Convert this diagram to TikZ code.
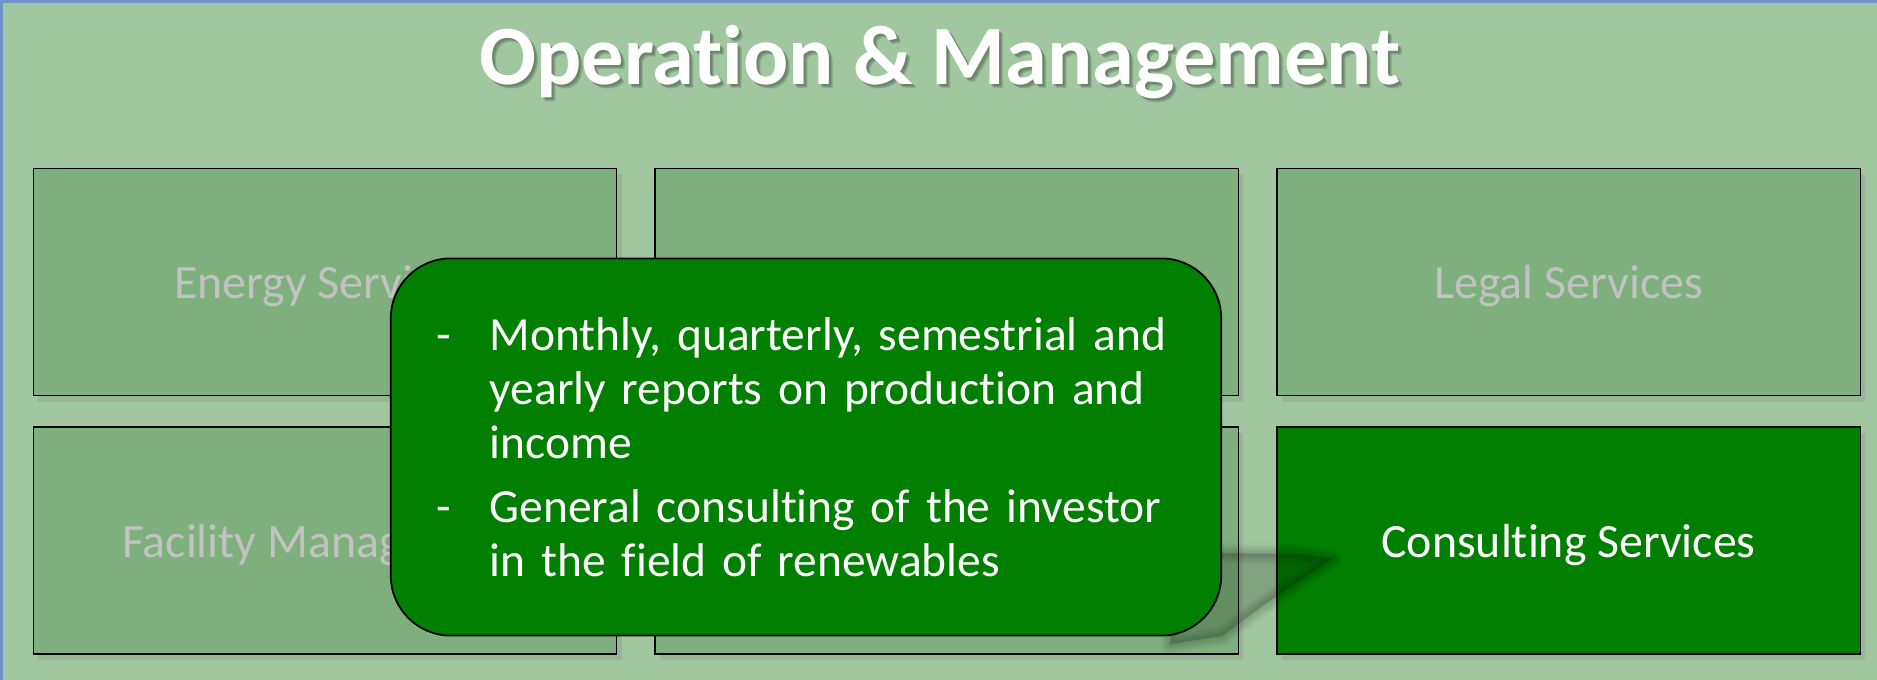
\documentclass[tikz,border=0pt]{standalone}
\usepackage{fontspec}
\setmainfont{Carlito}[Ligatures={NoCommon}]
\usetikzlibrary{positioning,shadows,calc}
\definecolor{bg}{HTML}{A1C7A1}
\definecolor{tile}{HTML}{7EB07E}
\definecolor{deep}{HTML}{007F00}
\definecolor{rim}{HTML}{6F93CB}
\definecolor{mute}{HTML}{C2C2C2}

\begin{document}
\begin{tikzpicture}[
  x=0.01cm, y=-0.01cm, node distance=3mm and 3.7mm,
  tilebox/.style={rectangle, draw=black, line width=0.4pt, fill=tile, text=mute,
                  minimum width=5.83cm, minimum height=2.27cm, inner sep=0pt, text depth=0pt,
                  font=\fontsize{13.6}{16}\selectfont,
                  drop shadow={shadow xshift=0.5mm, shadow yshift=-0.6mm, opacity=0.25}},
  hot/.style={tilebox, fill=deep, text=white},
  note/.style={rectangle, rounded corners=0.6cm, draw=black, line width=0.5pt, fill=deep,
               text=white, minimum width=8.3cm, minimum height=3.77cm, text width=7.38cm,
               inner xsep=0.46cm, inner ysep=0pt, align=left,
               font=\fontsize{13.5}{15.3}\selectfont},
  heading/.style={font=\fontsize{24}{28}\selectfont\bfseries, text=white, anchor=base},
  blur/.style={black, opacity=0.028, line join=round, line width=#1},
]
% ---- page and frame ----
\useasboundingbox (0,0) rectangle (1877,680);
\fill[bg] (0,0) rectangle (1877,680);
\draw[rim, line width=0.6pt] (1.5,680) -- (1.5,1.5) -- (1877,1.5);

% ---- heading (with soft drop shadow) ----
\foreach \d in {0,1,2}
  \node[heading, text=black, opacity=0.12] at (942+\d,87+\d) {Operation \& Management};
\node[heading] (title) at (940,85) {Operation \& Management};

% ---- service tiles, two rows of three ----
\node[tilebox] (energy) at (325,282) {Energy Services};
\node[tilebox] (mid1) [right=of energy] {};
\node[tilebox] (legal) [right=of mid1] {Legal Services};
\node[tilebox] (facility) [below=of energy] {Facility Management};
\node[tilebox] (mid2) [right=of facility] {};
\node[hot] (consult) [right=of mid2] {Consulting Services};

% ---- blurred shadow of the note's pointer (drawn before the note) ----
\coordinate (tip) at (1332,559);
\foreach \w in {0.20cm, 0.17cm, 0.14cm, 0.11cm, 0.08cm, 0.05cm, 0.02cm}
  \filldraw[blur=\w] (1190,553) -- (1300,554) -- (tip) -- (1262,606) -- (1222,636) -- (1170,644) -- cycle;

% ---- note ----
\node[note] (note) at (806,447) {%
  \raisebox{-0.06cm}[\height][\depth]{%
  \begin{tabular}{@{}p{0.53cm}@{}l@{}}
  -&Monthly, quarterly, semestrial and\\
   &yearly reports on production and\\
   &income\\[3pt]
  -&General consulting of the investor\\
   &in the field of renewables
  \end{tabular}}};
\end{tikzpicture}
\end{document}
